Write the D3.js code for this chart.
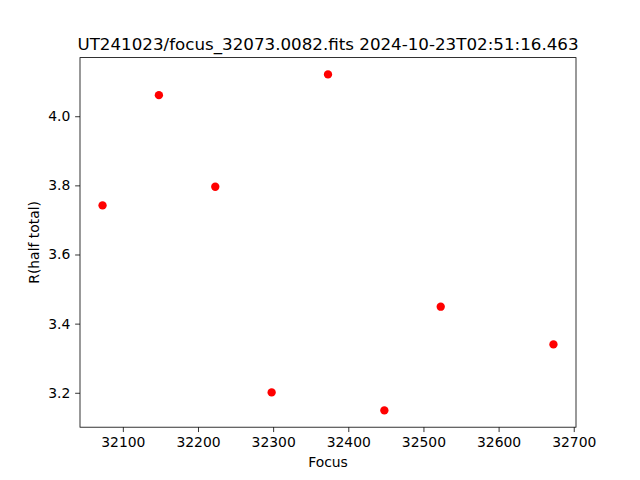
<!DOCTYPE html>
<html><head><meta charset="utf-8">
<script src="https://cdn.jsdelivr.net/npm/d3@7"></script>
<style>
body{margin:0;background:#fff;}
svg text{font-family:"DejaVu Sans",sans-serif;fill:#000;}
</style></head><body>
<svg id="c" width="640" height="480"></svg>
<script>
const focus = [32073, 32148, 32223, 32298, 32373, 32448, 32523, 32673];
const rhalf = [3.742, 4.061, 3.796, 3.201, 4.121, 3.149, 3.449, 3.340];
const xTicks = [32100, 32200, 32300, 32400, 32500, 32600, 32700];
const yTicks = [3.2, 3.4, 3.6, 3.8, 4.0];
const title = "UT241023/focus_32073.0082.fits 2024-10-23T02:51:16.463";

const svg = d3.select("#c");
svg.append("rect").attr("width",640).attr("height",480).attr("fill","#fff");
const L=80, R=576, T=57.6, B=427.2;
function pad(arr){const mn=d3.min(arr),mx=d3.max(arr),p=(mx-mn)*0.05;return [mn-p,mx+p];}
const x = d3.scaleLinear().domain(pad(focus)).range([L,R]);
const y = d3.scaleLinear().domain(pad(rhalf)).range([B,T]);
const tl = 4.86;

const xa = svg.append("g").attr("transform",`translate(0,${B})`)
  .call(d3.axisBottom(x).tickValues(xTicks).tickFormat(d3.format("d")).tickSize(tl).tickPadding(4.86));
const ya = svg.append("g").attr("transform",`translate(${L},0)`)
  .call(d3.axisLeft(y).tickValues(yTicks).tickFormat(d3.format(".1f")).tickSize(tl).tickPadding(4.86));
[xa,ya].forEach(a=>{
  a.select(".domain").remove();
  a.selectAll(".tick line").attr("stroke","#000").attr("stroke-width",0.8);
  a.selectAll(".tick text").attr("font-size","13.9px").attr("font-family","DejaVu Sans").attr("fill","#000");
});

svg.append("g").selectAll("circle").data(focus).join("circle")
  .attr("cx",(d)=>x(d)).attr("cy",(d,i)=>y(rhalf[i])).attr("r",4.17).attr("fill","#ff0000");

svg.append("rect").attr("x",L).attr("y",T).attr("width",R-L).attr("height",B-T)
  .attr("fill","none").attr("stroke","#000").attr("stroke-width",0.8);

svg.append("text").attr("x",(L+R)/2).attr("y",49.5).attr("text-anchor","middle")
  .attr("font-size","16.7px").text(title);
svg.append("text").attr("x",(L+R)/2).attr("y",467).attr("text-anchor","middle")
  .attr("font-size","13.9px").text("Focus");
svg.append("text").attr("transform",`translate(39,${(T+B)/2}) rotate(-90)`).attr("text-anchor","middle")
  .attr("font-size","13.9px").text("R(half total)");
</script></body></html>
